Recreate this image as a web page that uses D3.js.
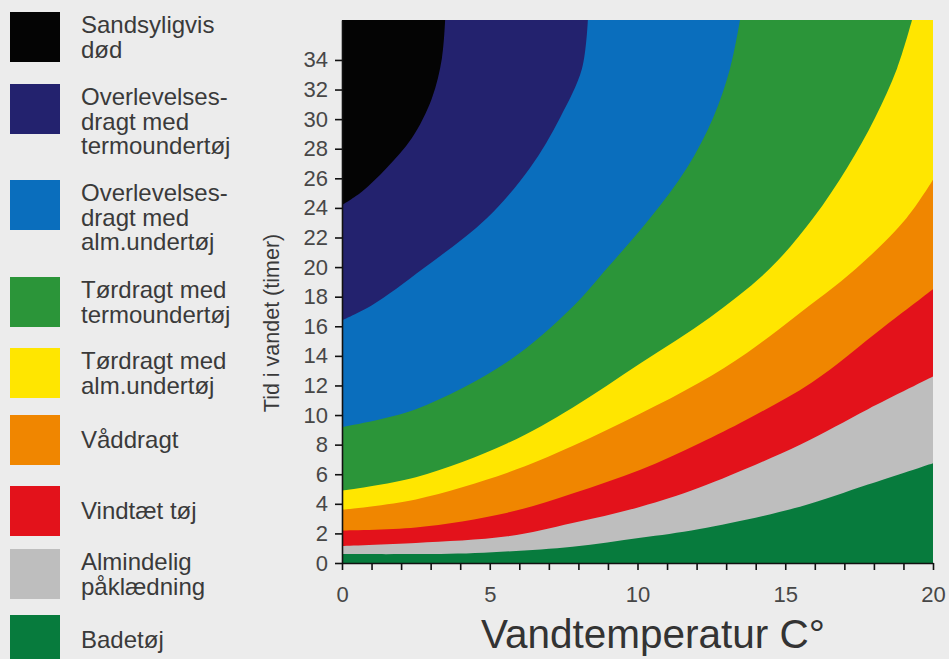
<!DOCTYPE html>
<html>
<head>
<meta charset="utf-8">
<script src="https://cdn.jsdelivr.net/npm/d3@7"></script>
<style>
  body { margin: 0; background: #ececec; }
  svg { display: block; font-family: 'Liberation Sans', Arial, Helvetica, sans-serif; }
  .axis path, .axis line { stroke: #111; stroke-width: 1.6; }
  .axis text { fill: #474747; font-size: 22px; }
  .legend text { fill: #3a3a3a; font-size: 24px; }
</style>
</head>
<body>
<div id="chart"></div>
<script>
'use strict';

// zones, from the top (coldest / longest) to the bottom
var zoneNames = [
  [ 'Sandsyligvis', 'død' ],
  [ 'Overlevelses-', 'dragt med', 'termoundertøj' ],
  [ 'Overlevelses-', 'dragt med', 'alm.undertøj' ],
  [ 'Tørdragt med', 'termoundertøj' ],
  [ 'Tørdragt med', 'alm.undertøj' ],
  [ 'Våddragt' ],
  [ 'Vindtæt tøj' ],
  [ 'Almindelig', 'påklædning' ],
  [ 'Badetøj' ]
];

// upper edge of each zone: [vandtemperatur C, timer]
var topOverlevTermo = [ [0, 24.2], [0.67, 25.1], [1.51, 26.7], [2.36, 28.7], [3.04, 31.4],
  [3.38, 34.1], [3.49, 36.7] ];
var topOverlevAlm = [ [0, 16.4], [1.0, 17.4], [2.75, 19.9], [4.9, 23.3], [6.36, 26.7],
  [7.38, 30.1], [8.12, 33.4], [8.32, 36.7] ];
var topTorTermo = [ [0, 9.2], [2.5, 10.4], [5.6, 13.6], [7.8, 17.3], [8.96, 19.9], [10.42, 23.3],
  [11.67, 26.7], [12.56, 30.1], [13.13, 33.4], [13.47, 36.7] ];
var topTorAlm = [ [0, 4.9], [2.5, 5.8], [5.6, 8.1], [7.8, 10.5], [10.1, 13.5], [12.45, 16.6],
  [14.48, 19.9], [15.94, 23.3], [17.09, 26.7], [18.04, 30.1], [18.78, 33.4], [19.29, 36.7] ];
var topVaad = [ [0, 3.6], [2.5, 4.3], [5.6, 6.1], [7.8, 7.9], [10.1, 10.1], [12.1, 12.2],
  [13.7, 14.2], [15.3, 16.6], [17.4, 19.9], [19.1, 23.3], [20, 25.9] ];
var topVindtaet = [ [0, 2.2], [2.5, 2.4], [5.6, 3.4], [7.8, 4.7], [10.1, 6.3], [12.1, 8.1],
  [13.7, 9.7], [15.9, 12.2], [18.3, 15.9], [20, 18.5] ];
var topAlmindelig = [ [0, 1.15], [2.5, 1.35], [5.6, 1.8], [7.8, 2.7], [10.1, 3.8], [12.1, 5.1],
  [15.5, 8.0], [17.8, 10.4], [20, 12.6] ];
var topBadetoj = [ [0, 0.6], [2.5, 0.6], [4.8, 0.7], [7.8, 1.1], [10.1, 1.7], [12.1, 2.3],
  [15.5, 3.8], [17.8, 5.3], [20, 6.75] ];

var zoneTops = [ null, topOverlevTermo, topOverlevAlm, topTorTermo, topTorAlm,
  topVaad, topVindtaet, topAlmindelig, topBadetoj ];

var xTicks = [ 0, 1, 2, 3, 4, 5, 6, 7, 8, 9, 10, 11, 12, 13, 14, 15, 16, 17, 18, 19, 20 ];
var xLabels = [ 0, 5, 10, 15, 20 ];
var yTicks = [ 0, 2, 4, 6, 8, 10, 12, 14, 16, 18, 20, 22, 24, 26, 28, 30, 32, 34 ];
var xMax = 20,
    yMax = 36.7;

// styles / layout
var zoneColors = [ '#040404', '#23226e', '#0a6ebd', '#2b9539', '#ffe600',
  '#f08600', '#e3121b', '#bebebe', '#077b3d' ];
var legendTop = [ 12, 84, 180, 277, 348, 415, 486, 549, 615 ];

var width = 949,
    height = 659,
    plot = { left: 342, right: 933, top: 20, bottom: 563 };

var svg = d3.select( '#chart' )
  .append( 'svg' )
  .attr( 'width', width )
  .attr( 'height', height );

var x = d3.scaleLinear().domain( [0, xMax] ).range( [plot.left, plot.right] ),
    y = d3.scaleLinear().domain( [0, yMax] ).range( [plot.bottom, plot.top] );

var line = d3.line()
  .x( function( d ) { return x( d[0] ); })
  .y( function( d ) { return y( d[1] ); })
  .curve( d3.curveCatmullRom.alpha( 0.5 ) );

svg.append( 'clipPath' )
  .attr( 'id', 'plotclip' )
  .append( 'rect' )
  .attr( 'x', plot.left )
  .attr( 'y', plot.top )
  .attr( 'width', plot.right - plot.left )
  .attr( 'height', plot.bottom - plot.top );

var zones = svg.append( 'g' ).attr( 'clip-path', 'url(#plotclip)' );

// coldest zone fills everything, the others are painted on top of it
zones.append( 'rect' )
  .attr( 'x', x( 0 ) )
  .attr( 'y', y( yMax ) )
  .attr( 'width', x( xMax ) - x( 0 ) )
  .attr( 'height', y( 0 ) - y( yMax ) )
  .attr( 'fill', zoneColors[0] );

function zonePath( pts ) {
  var d = line( pts ),
      last = pts[ pts.length - 1 ];

  if ( last[0] < xMax ) {
    d += 'L' + x( xMax ) + ',' + y( yMax );
  }
  d += 'L' + x( xMax ) + ',' + y( 0 ) + 'L' + x( 0 ) + ',' + y( 0 ) + 'Z';
  return d;
}

for ( var i = 1; i < zoneTops.length; i++ ) {
  zones.append( 'path' )
    .attr( 'd', zonePath( zoneTops[i] ) )
    .attr( 'fill', zoneColors[i] );
}

// axes
svg.append( 'g' )
  .attr( 'class', 'axis' )
  .attr( 'transform', 'translate(0,' + plot.bottom + ')' )
  .call( d3.axisBottom( x )
    .tickValues( xTicks )
    .tickSize( 7 )
    .tickSizeOuter( 0 )
    .tickPadding( 16 )
    .tickFormat( function( d ) { return xLabels.indexOf( d ) >= 0 ? d : ''; }) );

svg.append( 'g' )
  .attr( 'class', 'axis' )
  .attr( 'transform', 'translate(' + plot.left + ',0)' )
  .call( d3.axisLeft( y )
    .tickValues( yTicks )
    .tickSize( 7 )
    .tickSizeOuter( 0 )
    .tickPadding( 7 ) );

svg.append( 'text' )
  .attr( 'x', 653 )
  .attr( 'y', 648 )
  .attr( 'text-anchor', 'middle' )
  .attr( 'fill', '#333' )
  .style( 'font-size', '40.5px' )
  .text( 'Vandtemperatur C°' );

svg.append( 'text' )
  .attr( 'transform', 'translate(271,323) rotate(-90)' )
  .attr( 'text-anchor', 'middle' )
  .attr( 'dy', '0.35em' )
  .attr( 'fill', '#3a3a3a' )
  .style( 'font-size', '21.5px' )
  .text( 'Tid i vandet (timer)' );

// legend
var legend = svg.append( 'g' ).attr( 'class', 'legend' );

zoneNames.forEach( function( lines, i ) {
  var top = legendTop[i],
      item = legend.append( 'g' );

  item.append( 'rect' )
    .attr( 'x', 10 )
    .attr( 'y', top )
    .attr( 'width', 50 )
    .attr( 'height', 50 )
    .attr( 'fill', zoneColors[i] );

  var text = item.append( 'text' )
    .attr( 'x', 81 )
    .attr( 'y', top + ( lines.length === 1 ? 33 : 21 ) );

  lines.forEach( function( l, j ) {
    text.append( 'tspan' )
      .attr( 'x', 81 )
      .attr( 'dy', j === 0 ? 0 : 24.5 )
      .text( l );
  });
});
</script>
</body>
</html>
